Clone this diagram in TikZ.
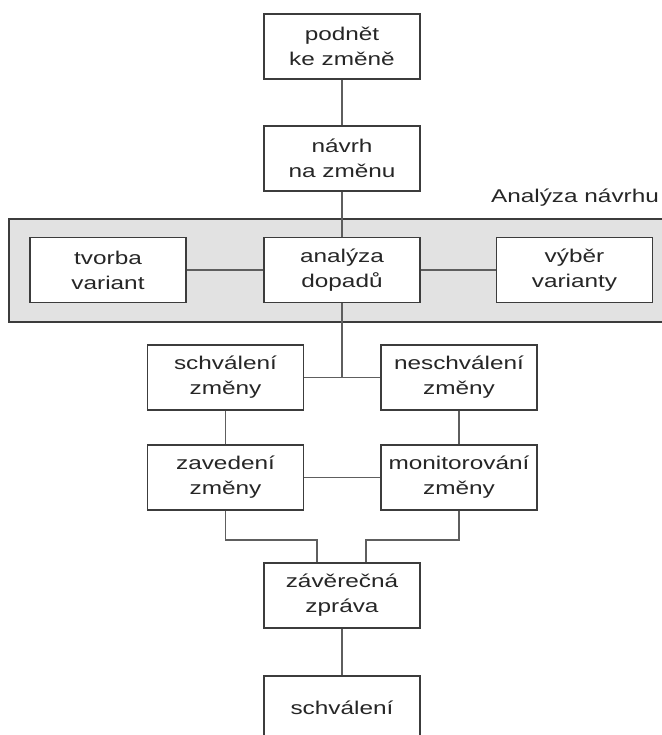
\documentclass[tikz,border=0pt]{standalone}
\usepackage{fontspec}
\setmainfont{Liberation Sans}[FakeStretch=1.32]
\usepackage{xcolor}
\usepackage{tikz}
\usetikzlibrary{shapes, arrows, positioning, calc}

\definecolor{boxline}{HTML}{3C3C3C}
\definecolor{linkline}{HTML}{5E5E5E}
\definecolor{panelfill}{HTML}{E2E2E2}
\definecolor{textcol}{HTML}{262626}

\tikzset{
  krok/.style={draw=boxline, line width=0.9pt, fill=white, align=center,
    minimum width=3.12cm, minimum height=1.3cm, inner sep=0pt, text=textcol,
    font=\fontsize{10.5pt}{14.3pt}\selectfont},
  spoj/.style={draw=linkline, line width=0.9pt}
}

\begin{document}
\begin{tikzpicture}[x=0.02cm, y=-0.02cm]
\useasboundingbox (0,0) rectangle (662,735);

% Analyza navrhu panel
\draw[draw=boxline, line width=0.9pt, fill=panelfill] (9,219) rectangle (664,322);
\node[text=textcol, font=\fontsize{10.5pt}{14.3pt}\selectfont] (panellabel) at (575,198) {Analýza návrhu};

% main column
\node[krok] (podnet) at (342,46.5) {podnět\\ke změně};
\node[krok] (navrh) at (342,158.5) {návrh\\na změnu};
\node[krok] (tvorba) at (108,270) {tvorba\\variant};
\node[krok] (analyza) at (342,270) {analýza\\dopadů};
\node[krok] (vyber) at (574.5,270) {výběr\\varianty};

% decision
\node[krok] (schvzmeny) at (225.5,377.5) {schválení\\změny};
\node[krok] (neschv) at (459,377.5) {neschválení\\změny};
\node[krok] (zavedeni) at (225.5,477.5) {zavedení\\změny};
\node[krok] (monitor) at (459,477.5) {monitorování\\změny};

\node[krok] (zprava) at (342,595.5) {závěrečná\\zpráva};
\node[krok, minimum height=1.28cm] (schvaleni) at (342,708) {schválení};

% links
\draw[spoj] (podnet) -- (navrh);
\draw[spoj] (navrh) -- (analyza);
\draw[spoj] (tvorba) -- (analyza);
\draw[spoj] (analyza) -- (vyber);
\draw[spoj] (schvzmeny) -- (neschv);
\draw[spoj] (analyza.south) -- (analyza.south |- schvzmeny.east);
\draw[spoj] (schvzmeny) -- (zavedeni);
\draw[spoj] (neschv) -- (monitor);
\draw[spoj] (zavedeni) -- (monitor);
\draw[spoj] (zavedeni.south) -- ++(0,29) -| ([xshift=-0.5cm]zprava.north);
\draw[spoj] (monitor.south) -- ++(0,29) -| ([xshift=0.48cm]zprava.north);
\draw[spoj] (zprava) -- (schvaleni);
\end{tikzpicture}
\end{document}
